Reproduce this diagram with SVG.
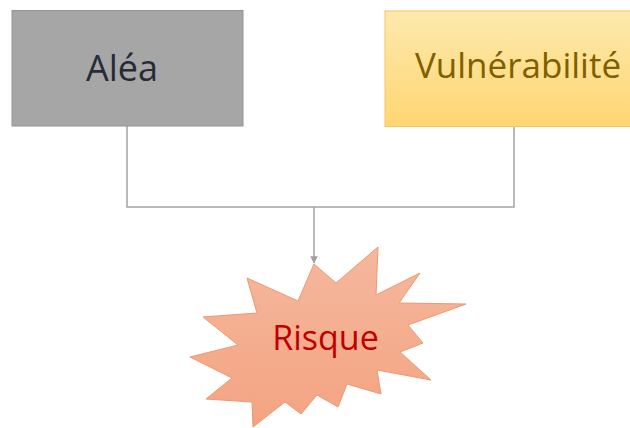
<svg xmlns="http://www.w3.org/2000/svg" width="630" height="428" viewBox="0 0 630 428">
  <defs>
    <linearGradient id="gYellow" x1="0" y1="0" x2="0" y2="1">
      <stop offset="0" stop-color="#fde9ad"/>
      <stop offset="1" stop-color="#ffd672"/>
    </linearGradient>
    <linearGradient id="gStar" x1="0" y1="0" x2="0" y2="1">
      <stop offset="0" stop-color="#f5b89e"/>
      <stop offset="1" stop-color="#f4a381"/>
    </linearGradient>
    <marker id="arrow" viewBox="0 0 10 10" refX="9" refY="5" markerWidth="5" markerHeight="5" orient="auto" markerUnits="strokeWidth">
      <path d="M0,0 L10,5 L0,10 z" fill="#a0a0a0"/>
    </marker>
    <style>
      .lbl { font-family: "Open Sans", "Noto Sans", "Liberation Sans", sans-serif; text-anchor: middle; }
      .conn { fill: none; stroke: #a3a3a3; stroke-width: 1.5; }
    </style>
  </defs>
  <rect width="630" height="428" fill="#ffffff"/>
  <g id="connectors">
    <polyline class="conn" points="127,126 127,207 514,207 514,127"/>
    <line class="conn" x1="314" y1="207" x2="314" y2="263" marker-end="url(#arrow)"/>
  </g>
  <g id="node-alea">
    <rect x="12" y="10.5" width="231" height="115.5" fill="#a6a6a6" stroke="#939393" stroke-width="1"/>
    <text class="lbl" x="122" y="81" font-size="36" fill="#262b38">Aléa</text>
  </g>
  <g id="node-vulnerabilite">
    <rect x="385" y="11" width="266" height="115.5" fill="url(#gYellow)" stroke="#f2c85e" stroke-width="1"/>
    <text class="lbl" x="518" y="78" font-size="35" fill="#7f6000">Vulnérabilité</text>
  </g>
  <g id="node-risque">
    <polygon points="314,264 336,283 378,247 376,295 420,273 399,303 466,304 408,325 423,343 400,352 431,380 377,370 381,394 347,384 338,407 317,395 301,414 285,402 253,427 252,402 206,399 232,378 190,357 238,345 203,317 257,313 247,278 298,301" fill="url(#gStar)" stroke="#ec9870" stroke-width="1"/>
    <text class="lbl" x="325.5" y="350" font-size="34" fill="#c00000">Risque</text>
  </g>
</svg>
